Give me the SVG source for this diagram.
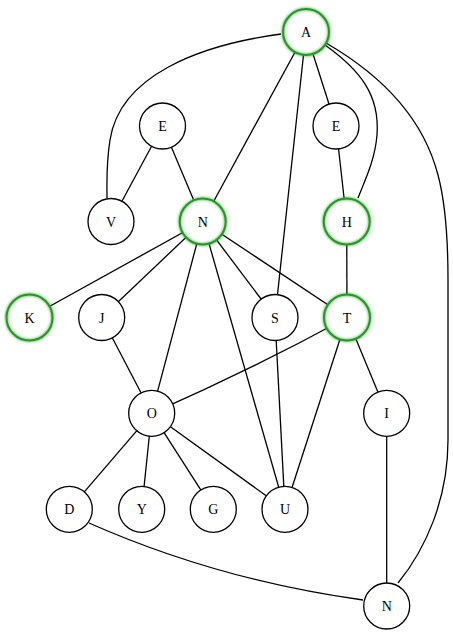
<svg xmlns="http://www.w3.org/2000/svg" width="453" height="635" viewBox="0 0 453 635">
<defs>
<style>
.e{fill:none;stroke:#000;stroke-width:1.3}
.n circle{fill:#fff;stroke:#000;stroke-width:1.3}
.g circle.r{fill:none;stroke:#239a23;stroke-width:2}
.g circle.f{fill:#fff;stroke:none}
text{font-family:"Liberation Serif","Times New Roman",serif;font-size:14px;text-anchor:middle;fill:#000}
</style>
<filter id="glow" x="-40%" y="-40%" width="180%" height="180%">
<feGaussianBlur in="SourceGraphic" stdDeviation="1.8" result="b"/>
<feMerge><feMergeNode in="b"/><feMergeNode in="SourceGraphic"/></feMerge>
</filter>
</defs>
<rect width="453" height="635" fill="#fff"/>
<g id="connectors">
<path class="e" d="M281,34 C200,45 120,75 110,140 C106,165 107,185 107,198"/>
<path class="e" d="M306,32 L202.7,221.5"/>
<path class="e" d="M306,32 L336,126"/>
<path class="e" d="M325,45 C360,70 380,95 377,135 C375,160 365,180 358,198"/>
<path class="e" d="M306,32 L275,317.5"/>
<path class="e" d="M326,43 C390,80 425,125 438,175 C446,205 448,240 448,280 L448,440 C448,500 425,550 398,583"/>
<path class="e" d="M162.5,126 L111,221.5"/>
<path class="e" d="M162.5,126 L202.7,221.5"/>
<path class="e" d="M336,126 L346.7,221.5"/>
<path class="e" d="M346.7,221.5 L347,317.5"/>
<path class="e" d="M202.7,221.5 L29.5,317.5"/>
<path class="e" d="M202.7,221.5 L101.7,317.5"/>
<path class="e" d="M202.7,221.5 L151.7,413.3"/>
<path class="e" d="M202.7,221.5 L275,317.5"/>
<path class="e" d="M202.7,221.5 L347,317.5"/>
<path class="e" d="M202.7,221.5 L285,509.3"/>
<path class="e" d="M101.7,317.5 L151.7,413.3"/>
<path class="e" d="M275,317.5 L285,509.3"/>
<path class="e" d="M347,317.5 Q251,370 151.7,413.3"/>
<path class="e" d="M347,317.5 L285,509.3"/>
<path class="e" d="M347,317.5 L386.7,413.3"/>
<path class="e" d="M151.7,413.3 L69.3,509.3"/>
<path class="e" d="M151.7,413.3 L141.7,509.3"/>
<path class="e" d="M151.7,413.3 L213.3,509.3"/>
<path class="e" d="M151.7,413.3 L285,509.3"/>
<path class="e" d="M386.7,413.3 L386.7,606"/>
<path class="e" d="M89,523 Q218,580 363,600"/>
</g>
<g id="node-A" class="g"><circle class="f" cx="306" cy="32" r="23"/><circle class="r" cx="306" cy="32" r="23" filter="url(#glow)"/><text x="306" y="37">A</text></g>
<g id="node-E1" class="n"><circle cx="162.5" cy="126" r="23"/><text x="162.5" y="131">E</text></g>
<g id="node-E2" class="n"><circle cx="336" cy="126" r="23"/><text x="336" y="131">E</text></g>
<g id="node-V" class="n"><circle cx="111" cy="221.5" r="23"/><text x="111" y="226.5">V</text></g>
<g id="node-N1" class="g"><circle class="f" cx="202.7" cy="221.5" r="23"/><circle class="r" cx="202.7" cy="221.5" r="23" filter="url(#glow)"/><text x="202.7" y="226.5">N</text></g>
<g id="node-H" class="g"><circle class="f" cx="346.7" cy="221.5" r="23"/><circle class="r" cx="346.7" cy="221.5" r="23" filter="url(#glow)"/><text x="346.7" y="226.5">H</text></g>
<g id="node-K" class="g"><circle class="f" cx="29.5" cy="317.5" r="23"/><circle class="r" cx="29.5" cy="317.5" r="23" filter="url(#glow)"/><text x="29.5" y="322.5">K</text></g>
<g id="node-J" class="n"><circle cx="101.7" cy="317.5" r="23"/><text x="101.7" y="322.5">J</text></g>
<g id="node-S" class="n"><circle cx="275" cy="317.5" r="23"/><text x="275" y="322.5">S</text></g>
<g id="node-T" class="g"><circle class="f" cx="347" cy="317.5" r="23"/><circle class="r" cx="347" cy="317.5" r="23" filter="url(#glow)"/><text x="347" y="322.5">T</text></g>
<g id="node-O" class="n"><circle cx="151.7" cy="413.3" r="23"/><text x="151.7" y="418.3">O</text></g>
<g id="node-I" class="n"><circle cx="386.7" cy="413.3" r="23"/><text x="386.7" y="418.3">I</text></g>
<g id="node-D" class="n"><circle cx="69.3" cy="509.3" r="23"/><text x="69.3" y="514.3">D</text></g>
<g id="node-Y" class="n"><circle cx="141.7" cy="509.3" r="23"/><text x="141.7" y="514.3">Y</text></g>
<g id="node-G" class="n"><circle cx="213.3" cy="509.3" r="23"/><text x="213.3" y="514.3">G</text></g>
<g id="node-U" class="n"><circle cx="285" cy="509.3" r="23"/><text x="285" y="514.3">U</text></g>
<g id="node-N2" class="n"><circle cx="386.7" cy="606" r="23"/><text x="386.7" y="611">N</text></g>
</svg>
